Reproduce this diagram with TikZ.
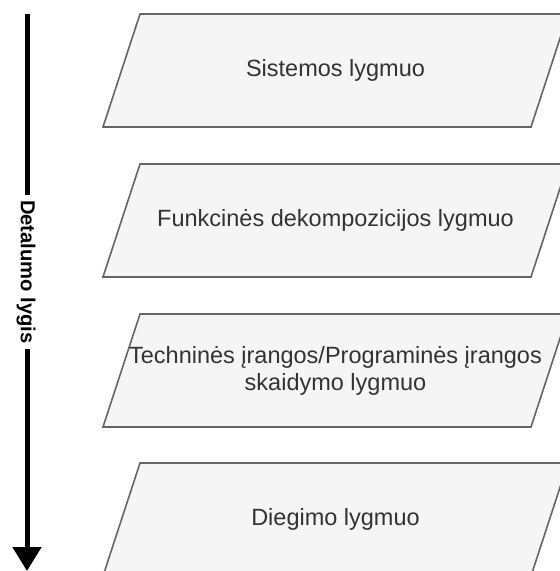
\documentclass[tikz,border=0pt]{standalone}
\usepackage{fontspec}
\setmainfont{Liberation Sans}
\usetikzlibrary{arrows.meta}
\definecolor{boxfill}{HTML}{F5F5F5}
\definecolor{boxline}{HTML}{666666}
\definecolor{txt}{HTML}{333333}
\begin{document}
\begin{tikzpicture}[x=1pt,y=-1pt,
  level/.style={fill=boxfill,draw=boxline,line width=1.6pt},
  lbl/.style={text=txt,font=\fontsize{23.5}{27}\selectfont,align=center,inner sep=0pt},
  axis/.style={line width=5pt,-{Triangle[width=28pt,length=24pt]}},
  axislbl/.style={font=\bfseries\fontsize{20.2}{24}\selectfont,fill=white,rotate=-90,inner xsep=5pt,inner ysep=1pt}]
\useasboundingbox (0,0) rectangle (560,571);
\clip (0,0) rectangle (560,571);
\foreach \t/\nm in {14/l1,164/l2,314/l3,463/l4}{
  \draw[level] ({103},{\t+113}) -- ({531},{\t+113}) -- ({568},{\t}) -- ({140},{\t}) -- cycle;
  \coordinate (\nm) at ({335.5},{\t+56.5});
}
\node[lbl] (t1) at (l1) {Sistemos lygmuo};
\node[lbl] (t2) at (l2) {Funkcinės dekompozicijos lygmuo};
\node[lbl] (t3) at (l3) {Techninės įrangos/Programinės įrangos\\skaidymo lygmuo};
\node[lbl] (t4) at (l4) {Diegimo lygmuo};
\coordinate (aTop) at (27,14);
\coordinate (aBot) at (27,571);
\draw[axis] (aTop) -- (aBot);
\node[axislbl] (alab) at (26,272) {Detalumo lygis};
\end{tikzpicture}
\end{document}
